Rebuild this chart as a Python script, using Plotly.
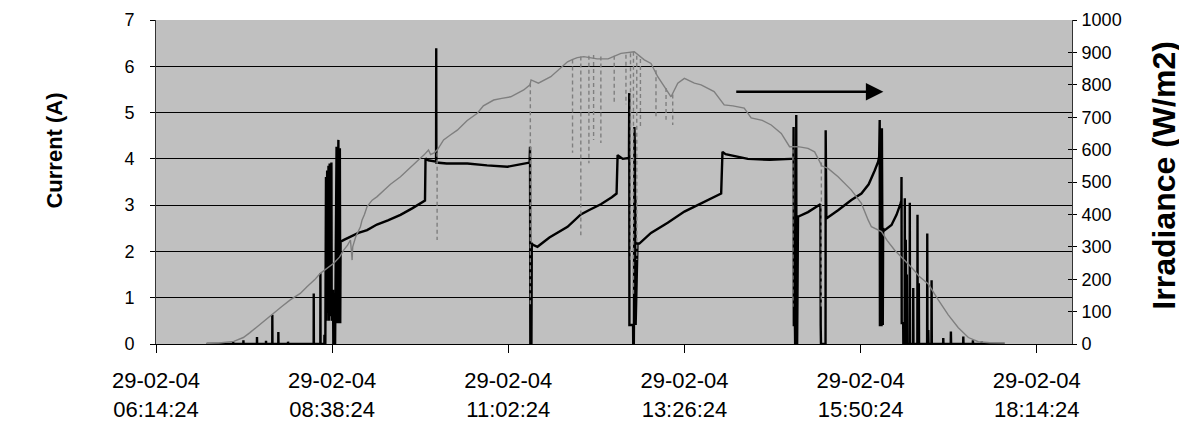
import pandas as pd
import plotly.graph_objects as go

# ---------------- data ----------------
day = "2004-02-29"
tick_date_label = "29-02-04"
tick_times = ["06:14:24", "08:38:24", "11:02:24", "13:26:24", "15:50:24", "18:14:24"]
x_range = ["06:14:24", "18:43:12"]

current_ticks = [0, 1, 2, 3, 4, 5, 6, 7]
current_grid = [1, 2, 3, 4, 5, 6]
irradiance_ticks = [0, 100, 200, 300, 400, 500, 600, 700, 800, 900, 1000]

# (hour of day, current in A)
current_readings = [
    (6.93, 0), (7.29, 0), (7.291, 0.05), (7.293, 0), (7.43, 0), (7.431, 0.08), (7.433, 0),
    (7.615, 0), (7.616, 0.15), (7.618, 0), (7.738, 0), (7.739, 0.07), (7.741, 0),
    (7.824, 0), (7.825, 0.63), (7.827, 0), (7.906, 0), (7.907, 0.26), (7.909, 0),
    (8.038, 0), (8.039, 0.05), (8.041, 0), (8.388, 0), (8.389, 1.09), (8.391, 0),
    (8.479, 0), (8.480, 1.53), (8.482, 0), (8.534, 0), (8.535, 0.2), (8.537, 0),
    (8.547, 0), (8.548, 2.2), (8.552, 0.5), (8.556, 3.61), (8.560, 0.5), (8.572, 3.75),
    (8.576, 0.67), (8.590, 3.85), (8.594, 0.5), (8.606, 3.9), (8.610, 0.6), (8.630, 3.92),
    (8.634, 0.5), (8.652, 1.17), (8.656, 0), (8.676, 0.59), (8.680, 0), (8.700, 4.26),
    (8.704, 0.45), (8.725, 4.41), (8.729, 0.45), (8.745, 4.23), (8.750, 0.45),
    (8.755, 2.21), (8.80, 2.25), (8.889, 2.32), (8.998, 2.40), (9.116, 2.46), (9.25, 2.58),
    (9.40, 2.67), (9.571, 2.79), (9.73, 2.93), (9.889, 3.07), (9.905, 3.10),
    (9.912, 4.01), (9.95, 3.97), (10.056, 3.94), (10.058, 6.39), (10.060, 3.92),
    (10.20, 3.90), (10.482, 3.90), (10.75, 3.86), (11.028, 3.83), (11.20, 3.88),
    (11.330, 3.92), (11.336, 4.26), (11.340, 0.0), (11.355, 0.0), (11.360, 2.18),
    (11.369, 2.15), (11.437, 2.10), (11.60, 2.30), (11.847, 2.53), (12.028, 2.80),
    (12.15, 2.90), (12.301, 3.02), (12.45, 3.17), (12.515, 3.25),
    (12.529, 4.08), (12.60, 4.00), (12.684, 4.02), (12.688, 5.42), (12.690, 0.41),
    (12.740, 0.41), (12.742, 0.0), (12.750, 0.0), (12.752, 0.41), (12.758, 4.69),
    (12.761, 0.41), (12.765, 4.2), (12.768, 0.41), (12.772, 3.2), (12.775, 0.41),
    (12.800, 2.17), (12.825, 2.17), (12.984, 2.40), (13.212, 2.62), (13.439, 2.86),
    (13.667, 3.04), (13.80, 3.14), (13.94, 3.25),
    (13.958, 4.15), (14.0, 4.10), (14.304, 4.00), (14.60, 3.98), (14.895, 4.00),
    (14.925, 4.00), (14.927, 4.69), (14.930, 0.41), (14.945, 0.41), (14.948, 0.0),
    (14.960, 0.0), (14.963, 4.95), (14.966, 0.0), (14.975, 0.0),
    (14.987, 2.75), (15.123, 2.85), (15.282, 3.00), (15.292, 3.02), (15.296, 0.41),
    (15.300, 0.0), (15.362, 0.0), (15.364, 4.62), (15.367, 0.0), (15.371, 0.0),
    (15.373, 2.71), (15.533, 2.89), (15.714, 3.11), (15.851, 3.25), (15.95, 3.45),
    (16.032, 3.75), (16.079, 3.94), (16.093, 4.05), (16.100, 4.84), (16.103, 0.41),
    (16.125, 0.41), (16.130, 4.66), (16.135, 0.41), (16.142, 0.41),
    (16.147, 2.50), (16.16, 2.45), (16.261, 2.57), (16.329, 2.79), (16.385, 3.04),
    (16.395, 3.10), (16.397, 3.61), (16.400, 0.45), (16.420, 0.45), (16.422, 0),
    (16.440, 0), (16.442, 3.15), (16.445, 0), (16.455, 2.25), (16.458, 0), (16.462, 2.1),
    (16.466, 0), (16.470, 1.5), (16.474, 0), (16.508, 0), (16.510, 3.05), (16.513, 0),
    (16.555, 0), (16.557, 1.21), (16.560, 0), (16.613, 0), (16.615, 2.79), (16.618, 0),
    (16.631, 0), (16.633, 1.31), (16.636, 0), (16.746, 0), (16.748, 2.39), (16.751, 0),
    (16.760, 0), (16.762, 0.3), (16.765, 0), (16.805, 0), (16.807, 1.38), (16.810, 0),
    (16.964, 0), (16.966, 0.13), (16.969, 0), (17.068, 0), (17.070, 0.27), (17.073, 0),
    (17.237, 0), (17.239, 0.16), (17.242, 0), (17.368, 0), (17.370, 0.08), (17.373, 0),
    (17.488, 0), (17.490, 0.05), (17.493, 0), (17.80, 0),
]

# (hour of day, irradiance in W/m2) - the continuous curve
irradiance_readings = [
    (6.93, 2), (7.10, 3), (7.30, 8), (7.43, 20), (7.52, 35), (7.615, 53), (7.72, 72),
    (7.837, 95), (7.95, 115), (8.069, 136), (8.206, 156), (8.297, 177), (8.40, 198),
    (8.479, 218), (8.56, 232), (8.661, 249), (8.74, 268), (8.797, 290), (8.85, 305),
    (8.889, 321), (8.905, 280), (8.912, 259), (8.92, 300), (8.96, 330), (9.025, 362),
    (9.048, 383), (9.08, 400), (9.116, 424), (9.185, 444), (9.253, 455), (9.35, 475),
    (9.435, 493), (9.571, 516), (9.708, 547), (9.80, 565), (9.889, 583), (9.953, 599),
    (9.981, 585), (10.03, 590), (10.076, 600),
    (10.158, 630), (10.25, 645), (10.345, 660), (10.48, 690), (10.618, 712), (10.70, 735),
    (10.841, 753), (10.95, 758), (11.073, 763), (11.25, 784), (11.335, 800),
    (11.350, 815), (11.45, 805), (11.619, 825), (11.75, 850), (11.847, 871),
    (11.91, 878), (11.98, 884), (12.069, 887), (12.25, 880), (12.40, 880),
    (12.575, 897), (12.756, 902), (12.893, 877), (12.984, 866),
    (13.076, 825), (13.166, 794), (13.257, 763), (13.349, 805), (13.439, 820), (13.575, 805),
    (13.667, 800), (13.844, 779), (13.981, 738), (14.10, 735), (14.254, 728),
    (14.349, 698), (14.50, 690), (14.622, 676), (14.759, 650), (14.872, 609),
    (14.987, 609), (15.123, 604),
    (15.213, 593), (15.260, 573), (15.310, 550),
    (15.396, 542), (15.533, 516), (15.714, 475), (15.851, 434), (15.942, 383),
    (15.987, 362), (16.124, 347), (16.20, 320), (16.302, 290), (16.442, 259),
    (16.56, 230), (16.64, 208), (16.762, 185), (16.898, 136), (17.034, 90),
    (17.171, 50), (17.308, 20), (17.444, 7), (17.60, 4), (17.803, 3),
]

# sharp irradiance drops: (hour of day, level before the drop, lowest level) in W/m2
irradiance_dips = [
    (10.070, 590, 321), (11.340, 805, 120), (11.915, 878, 590), (12.028, 887, 336),
    (12.138, 890, 558), (12.202, 892, 630), (12.301, 887, 620), (12.483, 890, 743),
    (12.643, 893, 740), (12.705, 897, 259), (12.745, 902, 150), (12.790, 890, 259),
    (12.840, 880, 670), (13.052, 845, 701), (13.189, 790, 692), (13.280, 770, 676),
    (14.918, 600, 115), (15.305, 560, 115),
]

# arrow annotation (start/end clock time, level in A)
arrow_start, arrow_end, arrow_level = "14:07:30", "16:09:00", 5.45

# ---------------- build figure ----------------
base = pd.Timestamp(day)


def to_time(hours):
    return [base + pd.Timedelta(hours=h) for h in hours]


cur_t = to_time([p[0] for p in current_readings])
cur_v = [p[1] for p in current_readings]
irr_t = to_time([p[0] for p in irradiance_readings])
irr_v = [p[1] for p in irradiance_readings]

dip_x, dip_y = [], []
for h, top, low in irradiance_dips:
    t = to_time([h])[0]
    dip_x += [t, t, None]
    dip_y += [top, low, None]

FONT = "Liberation Sans, Arial, sans-serif"
GREY = "#7f7f7f"

fig = go.Figure()
# helper traces so that the grid axis and the inner tick axis are rendered
fig.add_trace(go.Scatter(x=[None], y=[None], yaxis="y3", showlegend=False, hoverinfo="skip"))
fig.add_trace(go.Scatter(x=[None], y=[None], yaxis="y4", showlegend=False, hoverinfo="skip"))
fig.add_trace(go.Scatter(x=cur_t, y=cur_v, mode="lines", name="Current",
                         line=dict(color="black", width=2.4), yaxis="y"))
fig.add_trace(go.Scatter(x=irr_t, y=irr_v, mode="lines", name="Irradiance",
                         line=dict(color=GREY, width=1.4), yaxis="y2"))
fig.add_trace(go.Scatter(x=dip_x, y=dip_y, mode="lines", name="Irradiance drops",
                         line=dict(color=GREY, width=1.4, dash="4px,3px"),
                         yaxis="y2", connectgaps=False))

tickvals = [f"{day} {t}" for t in tick_times]
ticktext = [f"{tick_date_label}<br>{t}" for t in tick_times]

# the page body keeps its default 8px margin, so the figure is sized/offset for it
fig.update_layout(
    width=1179, height=418,
    margin=dict(l=148, r=115, t=12, b=82),
    paper_bgcolor="white", plot_bgcolor="#C0C0C0",
    showlegend=False,
    font=dict(family=FONT, color="black"),
    xaxis=dict(
        type="date", range=[f"{day} {x_range[0]}", f"{day} {x_range[1]}"],
        tickvals=tickvals, ticktext=ticktext,
        tickfont=dict(size=22, family=FONT, color="black"),
        ticks="outside", ticklen=8, tickcolor="black", tickwidth=1,
        ticklabelstandoff=9, automargin=False,
        showgrid=False, zeroline=False,
        showline=True, linecolor="black", linewidth=1,
    ),
    yaxis=dict(
        range=[0, 7], tickvals=current_ticks,
        tickfont=dict(size=18, family=FONT, color="black"),
        ticks="outside", ticklen=5, tickcolor="black",
        ticklabelstandoff=12, automargin=False,
        showgrid=False, zeroline=False,
        showline=True, linecolor="#333333", linewidth=1,
    ),
    yaxis3=dict(
        range=[0, 7], overlaying="y", tickvals=current_grid, showticklabels=False,
        ticks="", showgrid=True, gridcolor="black", gridwidth=1, automargin=False,
        zeroline=False, showline=False,
    ),
    yaxis2=dict(
        range=[0, 1000], overlaying="y", side="right", tickvals=irradiance_ticks,
        tickfont=dict(size=18, family=FONT, color="black"),
        ticks="outside", ticklen=4, tickcolor="black",
        ticklabelstandoff=1, automargin=False,
        showgrid=False, zeroline=False,
        showline=True, linecolor="#333333", linewidth=1,
    ),
    yaxis4=dict(
        range=[0, 1000], overlaying="y", side="right", tickvals=irradiance_ticks,
        showticklabels=False, ticks="inside", ticklen=4, tickcolor="black",
        showgrid=False, zeroline=False, showline=False, automargin=False,
    ),
)

# axis titles
fig.add_annotation(text="<b>Current (A)</b>", textangle=-90, xref="paper", yref="paper",
                   x=-0.1103, y=0.597, xanchor="center", yanchor="middle", showarrow=False,
                   font=dict(size=22, family=FONT, color="black"))
fig.add_annotation(text="<b>Irradiance (W/m2)</b>", textangle=-90, xref="paper", yref="paper",
                   x=1.0995, y=0.52, xanchor="center", yanchor="middle", showarrow=False,
                   font=dict(size=32, family=FONT, color="black"))

# arrow
fig.add_annotation(
    x=f"{day} {arrow_end}", y=arrow_level, ax=f"{day} {arrow_start}", ay=arrow_level,
    xref="x", yref="y", axref="x", ayref="y",
    text="", showarrow=True, arrowhead=2, arrowsize=1.4, arrowwidth=2.5,
    arrowcolor="black", standoff=0,
)

fig.write_html("out.html")
